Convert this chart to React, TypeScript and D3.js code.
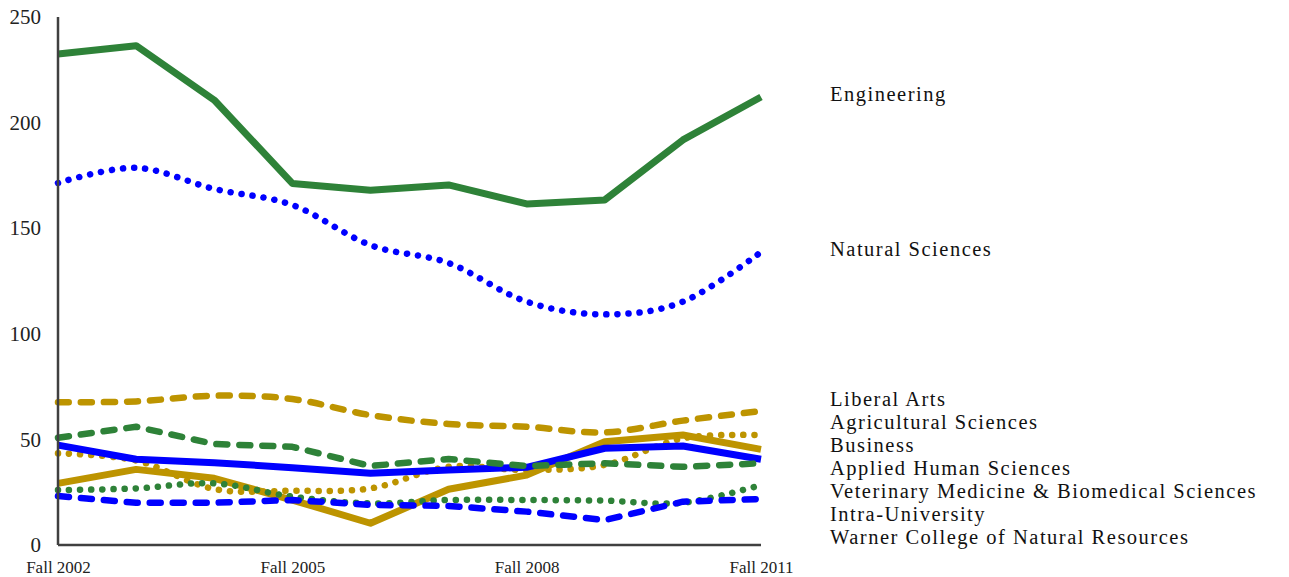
import React, { useEffect, useRef } from 'react';
import * as d3 from 'd3';

// values, Fall 2002 .. Fall 2011
const years = ['Fall 2002', 'Fall 2003', 'Fall 2004', 'Fall 2005', 'Fall 2006',
    'Fall 2007', 'Fall 2008', 'Fall 2009', 'Fall 2010', 'Fall 2011'];
const tickYears = ['Fall 2002', 'Fall 2005', 'Fall 2008', 'Fall 2011'];
const yTicks = [0, 50, 100, 150, 200, 250];

const engineering = [232.5, 236.4, 210.7, 171.2, 168, 170.5, 161.5, 163.4, 191.8, 212.1];
const naturalSciences = [171.4, 178.6, 168.6, 161, 142, 133.5, 115.2, 109.2, 115.2, 138.7];
const liberalArts = [67.6, 68, 70.7, 69.1, 61.5, 57.3, 56, 53.3, 58.9, 63.4];
const agriculturalSciences = [43.4, 40, 26.5, 25.7, 26.8, 37, 35.5, 37.9, 50.5, 52];
const business = [29.2, 35.8, 31.6, 21.3, 10.3, 26.4, 33.1, 48.9, 52.1, 45.3];
const appliedHumanSciences = [47.3, 40.6, 39, 36.6, 34, 35.5, 36.8, 45.8, 46.9, 40.6];
const vetMedicine = [50.8, 56, 47.8, 46.5, 37.4, 40.7, 37.4, 38.7, 37, 38.7];
const intraUniversity = [26, 26.8, 29.2, 22.9, 19.7, 21.3, 21.3, 21, 20, 28.4];
const warnerCollege = [23.2, 20, 20, 21.3, 19, 18.5, 15.8, 11.8, 20.5, 21.8];

const GREEN = '#2E8238';
const BLUE = '#0000FF';
const GOLD = '#BD9400';
const FONT = "'Liberation Serif', 'Times New Roman', serif";

const strokes: { [k: string]: { width: number, dash: string | null } } = {
    solid: { width: 7, dash: null },
    dashed: { width: 6.5, dash: '11 12' },
    dotted: { width: 6.5, dash: '0.1 11' }
};

// drawing order: first is at the bottom
const series = [
    { name: 'Business', values: business, color: GOLD, stroke: 'solid', smooth: false },
    { name: 'Agricultural Sciences', values: agriculturalSciences, color: GOLD, stroke: 'dotted', smooth: true },
    { name: 'Intra-University', values: intraUniversity, color: GREEN, stroke: 'dotted', smooth: true },
    { name: 'Warner College of Natural Resources', values: warnerCollege, color: BLUE, stroke: 'dashed', smooth: false },
    { name: 'Applied Human Sciences', values: appliedHumanSciences, color: BLUE, stroke: 'solid', smooth: false },
    { name: 'Veterinary Medicine & Biomedical Sciences', values: vetMedicine, color: GREEN, stroke: 'dashed', smooth: false },
    { name: 'Liberal Arts', values: liberalArts, color: GOLD, stroke: 'dashed', smooth: true },
    { name: 'Natural Sciences', values: naturalSciences, color: BLUE, stroke: 'dotted', smooth: true },
    { name: 'Engineering', values: engineering, color: GREEN, stroke: 'solid', smooth: false }
];

export default function App() {
    const canvas = useRef<SVGSVGElement>(null);

    useEffect(() => {
        const width = 1289;
        const height = 577;
        const margin = { top: 17, right: 528, bottom: 32, left: 58 };

        const svg = d3.select(canvas.current);
        svg.selectAll('*').remove();

        const x = d3.scalePoint<string>()
            .domain(years)
            .range([margin.left, width - margin.right]);
        const y = d3.scaleLinear()
            .domain([0, 250])
            .range([height - margin.bottom, margin.top]);

        // y axis labels
        const yAxis = svg.append('g')
            .attr('transform', 'translate(' + margin.left + ',0)')
            .call(d3.axisLeft(y).tickValues(yTicks).tickSize(0).tickPadding(17).tickFormat(d3.format('d')));
        yAxis.select('.domain').remove();
        yAxis.selectAll('text')
            .attr('font-family', FONT)
            .attr('font-size', 21)
            .attr('fill', '#222');

        const xAxis = svg.append('g')
            .attr('transform', 'translate(0,' + y(0) + ')')
            .call(d3.axisBottom(x).tickValues(tickYears).tickSize(0).tickPadding(16));
        xAxis.select('.domain').remove();
        xAxis.selectAll('text')
            .attr('font-family', FONT)
            .attr('font-size', 17)
            .attr('fill', '#222');

        // lines
        series.forEach(s => {
            const line = d3.line<number>()
                .x((d, i) => x(years[i]) as number)
                .y(d => y(d))
                .curve(s.smooth ? d3.curveCatmullRom.alpha(0) : d3.curveLinear);
            const st = strokes[s.stroke];
            svg.append('path')
                .datum(s.values)
                .attr('d', line)
                .attr('fill', 'none')
                .attr('stroke', s.color)
                .attr('stroke-width', st.width)
                .attr('stroke-linecap', st.dash ? 'round' : 'butt')
                .attr('stroke-linejoin', 'round')
                .attr('stroke-dasharray', st.dash);
        });

        // axis lines on top
        svg.append('line')
            .attr('x1', margin.left).attr('x2', margin.left)
            .attr('y1', y(250)).attr('y2', y(0))
            .attr('stroke', '#404040').attr('stroke-width', 2.5);
        svg.append('line')
            .attr('x1', margin.left).attr('x2', x(years[years.length - 1]) as number)
            .attr('y1', y(0)).attr('y2', y(0))
            .attr('stroke', '#404040').attr('stroke-width', 2.5);

        // end labels, spread apart so they do not collide
        const gap = 23;
        const bottom = y(0) - 5;
        const labels = series
            .map(s => ({ name: s.name, pos: y(s.values[s.values.length - 1]) }))
            .sort((a, b) => a.pos - b.pos);
        for (let i = 1; i < labels.length; i++) {
            labels[i].pos = Math.max(labels[i].pos, labels[i - 1].pos + gap);
        }
        labels[labels.length - 1].pos = Math.min(labels[labels.length - 1].pos, bottom);
        for (let i = labels.length - 2; i >= 0; i--) {
            labels[i].pos = Math.min(labels[i].pos, labels[i + 1].pos - gap);
        }

        svg.selectAll('.endLabel')
            .data(labels)
            .enter().append('text')
            .attr('class', 'endLabel')
            .attr('x', (x(years[years.length - 1]) as number) + 69)
            .attr('y', d => d.pos - 3)
            .attr('dy', '0.33em')
            .attr('font-family', FONT)
            .attr('font-size', 20.5)
            .attr('letter-spacing', 1.5)
            .attr('fill', '#111')
            .text(d => d.name);
    }, []);

    return (
        <svg ref={canvas} width={1289} height={577}
            style={{ position: 'absolute', left: 0, top: 0, background: '#fff' }} />
    );
}
